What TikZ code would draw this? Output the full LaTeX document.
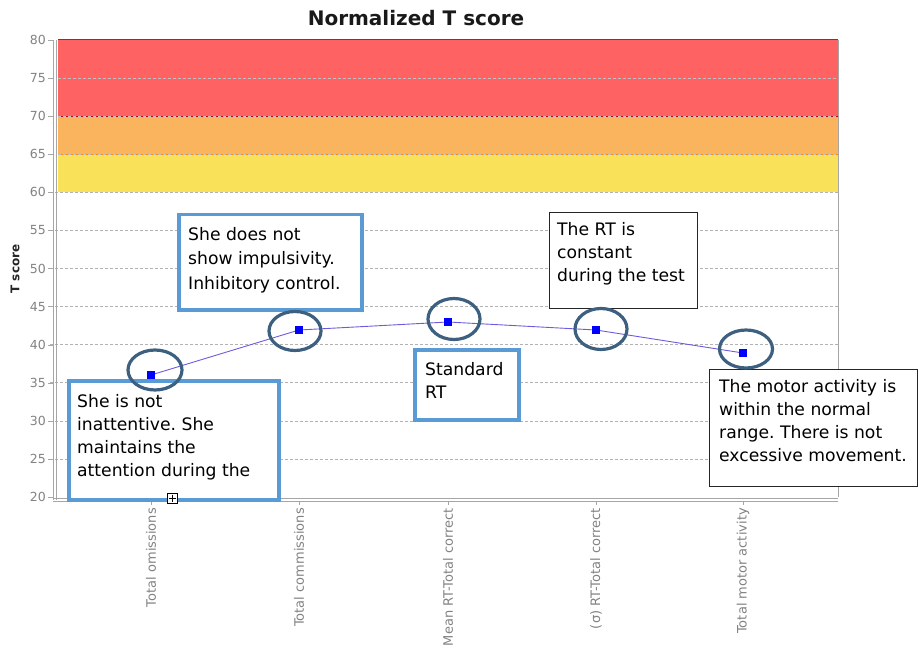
\documentclass[tikz,border=0pt]{standalone}
\usepackage{fontspec}
\setmainfont{DejaVu Sans}
\newfontfamily\axisfont{DejaVu Sans}
\usetikzlibrary{shapes.geometric,calc}
\frenchspacing
\definecolor{bandred}{RGB}{255,98,98}
\definecolor{bandorange}{RGB}{250,180,94}
\definecolor{bandyellow}{RGB}{249,225,90}
\definecolor{boxblue}{RGB}{91,155,213}
\definecolor{ringblue}{RGB}{62,96,128}
\definecolor{linepurple}{RGB}{110,90,220}
\definecolor{ticklabel}{RGB}{130,130,130}
\tikzset{
  grid/.style={densely dashed, gray!60, line width=0.6pt},
  axisline/.style={gray!70, line width=0.8pt},
  ticklbl/.style={font=\axisfont\fontsize{12.5}{14}\selectfont, text=ticklabel, anchor=east, inner sep=0pt},
  catlbl/.style={font=\axisfont\fontsize{13}{15}\selectfont, text=ticklabel, anchor=east, rotate=90, inner sep=0pt},
  datapt/.style={rectangle, fill=blue, minimum size=8pt, inner sep=0pt},
  dataline/.style={linepurple, line width=0.9pt},
  ring/.style={ellipse, draw=ringblue, line width=3.2pt, minimum width=52pt, minimum height=39pt, inner sep=0pt},
  bluebox/.style={rectangle, draw=boxblue, line width=3.5pt, fill=white, anchor=north west, inner sep=0pt},
  blackbox/.style={rectangle, draw=black!85, line width=1pt, fill=white, anchor=north west, inner sep=0pt},
  calltext/.style={anchor=north west, inner sep=0pt, align=left, font=\fontsize{17.2}{23}\selectfont, text=black}
}
\begin{document}
\begin{tikzpicture}[x=1pt,y=-1pt]
\useasboundingbox (0,0) rectangle (918,655);
% bands
\fill[bandred] (58,40) rectangle (838,116.2);
\fill[bandorange] (58,116.2) rectangle (838,154.2);
\fill[bandyellow] (58,154.2) rectangle (838,192.3);
\draw[red!80!black, line width=0.8pt] (58,116.2) -- (838,116.2);
\draw[orange!90!yellow, line width=0.8pt] (58,154.2) -- (838,154.2);
% grid
\foreach \yy in {78.1,116.2,154.2} \draw[densely dashed, black!25, line width=0.5pt] (58,\yy) -- (838,\yy);
\foreach \yy in {192.3,230.4,268.5,306.6,344.7,382.7,420.8,458.9} \draw[grid] (50,\yy) -- (838,\yy);
% plot border
\draw[gray!70, line width=1pt] (838,40) -- (838,497);
\draw[black!70, line width=1pt] (58,40) -- (838,40);
% axes
\draw[axisline] (53,40) -- (53,500);
\draw[axisline] (56,40) -- (56,500);
\draw[axisline] (53,498) -- (838,498);
\draw[axisline] (53,501.5) -- (838,501.5);
% y tick labels
\foreach \v/\yy in {80/40,75/78.1,70/116.2,65/154.2,60/192.3,55/230.4,50/268.5,45/306.6,40/344.7,35/382.7,30/420.8,25/458.9,20/497}
  {\draw[gray!70] (48,\yy) -- (53,\yy); \node[ticklbl] at (46,\yy) {\v};}
% y axis title
\node[font=\axisfont\bfseries\fontsize{12}{14}\selectfont, rotate=90, text=black!85] (ylab) at (15,269) {T score};
% title
\node[font=\axisfont\bfseries\fontsize{20}{24}\selectfont, text=black!90] (title) at (416,18) {Normalized T score};
% category labels
\foreach \xx/\t in {151/Total omissions,299/Total commissions,448/Mean RT{-}Total correct,596/(σ) RT{-}Total correct,743/Total motor activity}
  {\draw[gray!70] (\xx,502) -- (\xx,505); \node[catlbl] at (\xx,508) {\t};}
% data line and points
\coordinate (q1) at (151,375);
\coordinate (q2) at (299,330);
\coordinate (q3) at (448,322);
\coordinate (q4) at (596,330);
\coordinate (q5) at (743,353);
\draw[dataline] (q1) -- (q2) -- (q3) -- (q4) -- (q5);
\foreach \i in {1,...,5} \node[datapt] (p\i) at (q\i) {};
% callout boxes
\node[bluebox, minimum width=210pt, minimum height=119pt] (b1) at (67,379) {};
\node[calltext] (t1) at (77,394) {She is not\\inattentive. She\\maintains the\\attention during the};
\node[bluebox, minimum width=183pt, minimum height=95pt] (b2) at (177,213) {};
\node[calltext, font=\fontsize{17.2}{24.5}\selectfont] (t2) at (188,227) {She does not\\show impulsivity.\\Inhibitory control.};
\node[bluebox, minimum width=104pt, minimum height=70pt] (b3) at (413,348) {};
\node[calltext] (t3) at (425,362) {Standard\\RT};
\node[blackbox, minimum width=148pt, minimum height=96pt] (b4) at (549,212) {};
\node[calltext] (t4) at (557,222) {The RT is\\constant\\during the test};
\node[blackbox, minimum width=208pt, minimum height=117pt] (b5) at (709,369) {};
\node[calltext] (t5) at (719,379) {The motor activity is\\within the normal\\range. There is not\\excessive movement.};
% rings (drawn over the boxes)
\node[ring, minimum width=54pt, minimum height=40pt] (c1) at (155,370) {};
\node[ring] (c2) at (295,331) {};
\node[ring, minimum height=41pt] (c3) at (454,319) {};
\node[ring, minimum height=41pt] (c4) at (601,329) {};
\node[ring, minimum width=53pt, minimum height=38pt] (c5) at (746,349) {};
% small plus marker
\node[draw=black, line width=0.8pt, fill=white, minimum size=10pt, inner sep=0pt] (plus) at (172,498) {};
\draw[black, line width=0.8pt] ($(plus.center)+(-3.5,0)$) -- ($(plus.center)+(3.5,0)$);
\draw[black, line width=0.8pt] ($(plus.center)+(0,-3.5)$) -- ($(plus.center)+(0,3.5)$);
\end{tikzpicture}
\end{document}
